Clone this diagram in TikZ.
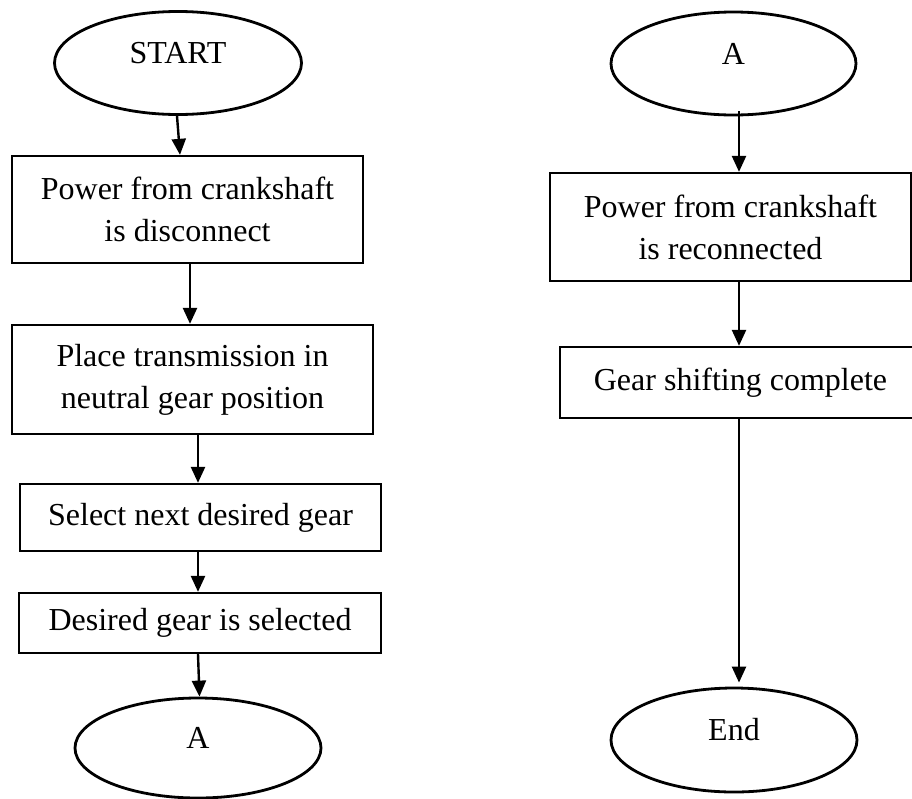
\documentclass[tikz,border=0pt]{standalone}
\usepackage{fontspec}
\setmainfont{Liberation Serif}
\usetikzlibrary{shapes.geometric,arrows.meta}

\tikzset{
  terminal/.style={draw, ellipse, line width=2.8pt, inner sep=0pt,
    minimum width=#1, minimum height=103pt,
    text height=22pt, text depth=21pt},
  terminal/.default=246pt,
  procbox/.style={draw, rectangle, line width=2.3pt, inner sep=0pt,
    align=center},
  flow/.style={line width=2.4pt, -{Triangle[length=16pt,width=14pt]}},
}

\begin{document}
\begin{tikzpicture}[x=1pt, y=1pt,
  every node/.style={font=\fontsize{32}{42}\selectfont}]
\useasboundingbox (0,0) rectangle (912,-798);
\clip (0,0) rectangle (912,-798);

% left column
\node[terminal=247pt] (start) at (178,-63) {START};
\node[procbox, minimum width=351pt, minimum height=107pt] (b1) at (187.5,-209.5)
  {Power from crankshaft\\is disconnect};
\node[procbox, minimum width=361pt, minimum height=109pt] (b2) at (192.5,-379.5)
  {Place transmission in\\neutral gear position};
\node[procbox, minimum width=361pt, minimum height=67pt] (b3) at (200.5,-517.5)
  {Select next desired gear};
\node[procbox, minimum width=362pt, minimum height=60pt] (b4) at (200,-623)
  {Desired gear is selected};
\node[terminal, minimum height=100pt] (a1) at (198,-748) {A};

% right column
\node[terminal=245pt] (a2) at (733.5,-63.5) {A};
\node[procbox, minimum width=361pt, minimum height=108pt] (b5) at (730.5,-227)
  {Power from crankshaft\\is reconnected};
\node[procbox, minimum width=361pt, minimum height=71pt] (b6) at (740.5,-382.5)
  {Gear shifting complete};
\node[terminal, minimum height=104pt] (end) at (734,-740) {End};

% connectors
\draw[flow] ([xshift=-1pt]start.south) -- ([xshift=-7.5pt]b1.north);
\draw[flow] ([xshift=2.5pt]b1.south) -- ([xshift=-2.5pt]b2.north);
\draw[flow] ([xshift=5.5pt]b2.south) -- ([xshift=-2.5pt]b3.north);
\draw[flow] ([xshift=-2.5pt]b3.south) -- ([xshift=-2pt]b4.north);
\draw[flow] ([xshift=-2pt]b4.south) -- ([xshift=1.5pt]a1.north);

\draw[flow] ([xshift=5.5pt,yshift=5pt]a2.south) -- ([xshift=8.5pt]b5.north);
\draw[flow] ([xshift=8.5pt]b5.south) -- ([xshift=-1.5pt]b6.north);
\draw[flow, shorten >=4pt] ([xshift=-1.5pt]b6.south) -- ([xshift=5pt]end.north);
\end{tikzpicture}
\end{document}
